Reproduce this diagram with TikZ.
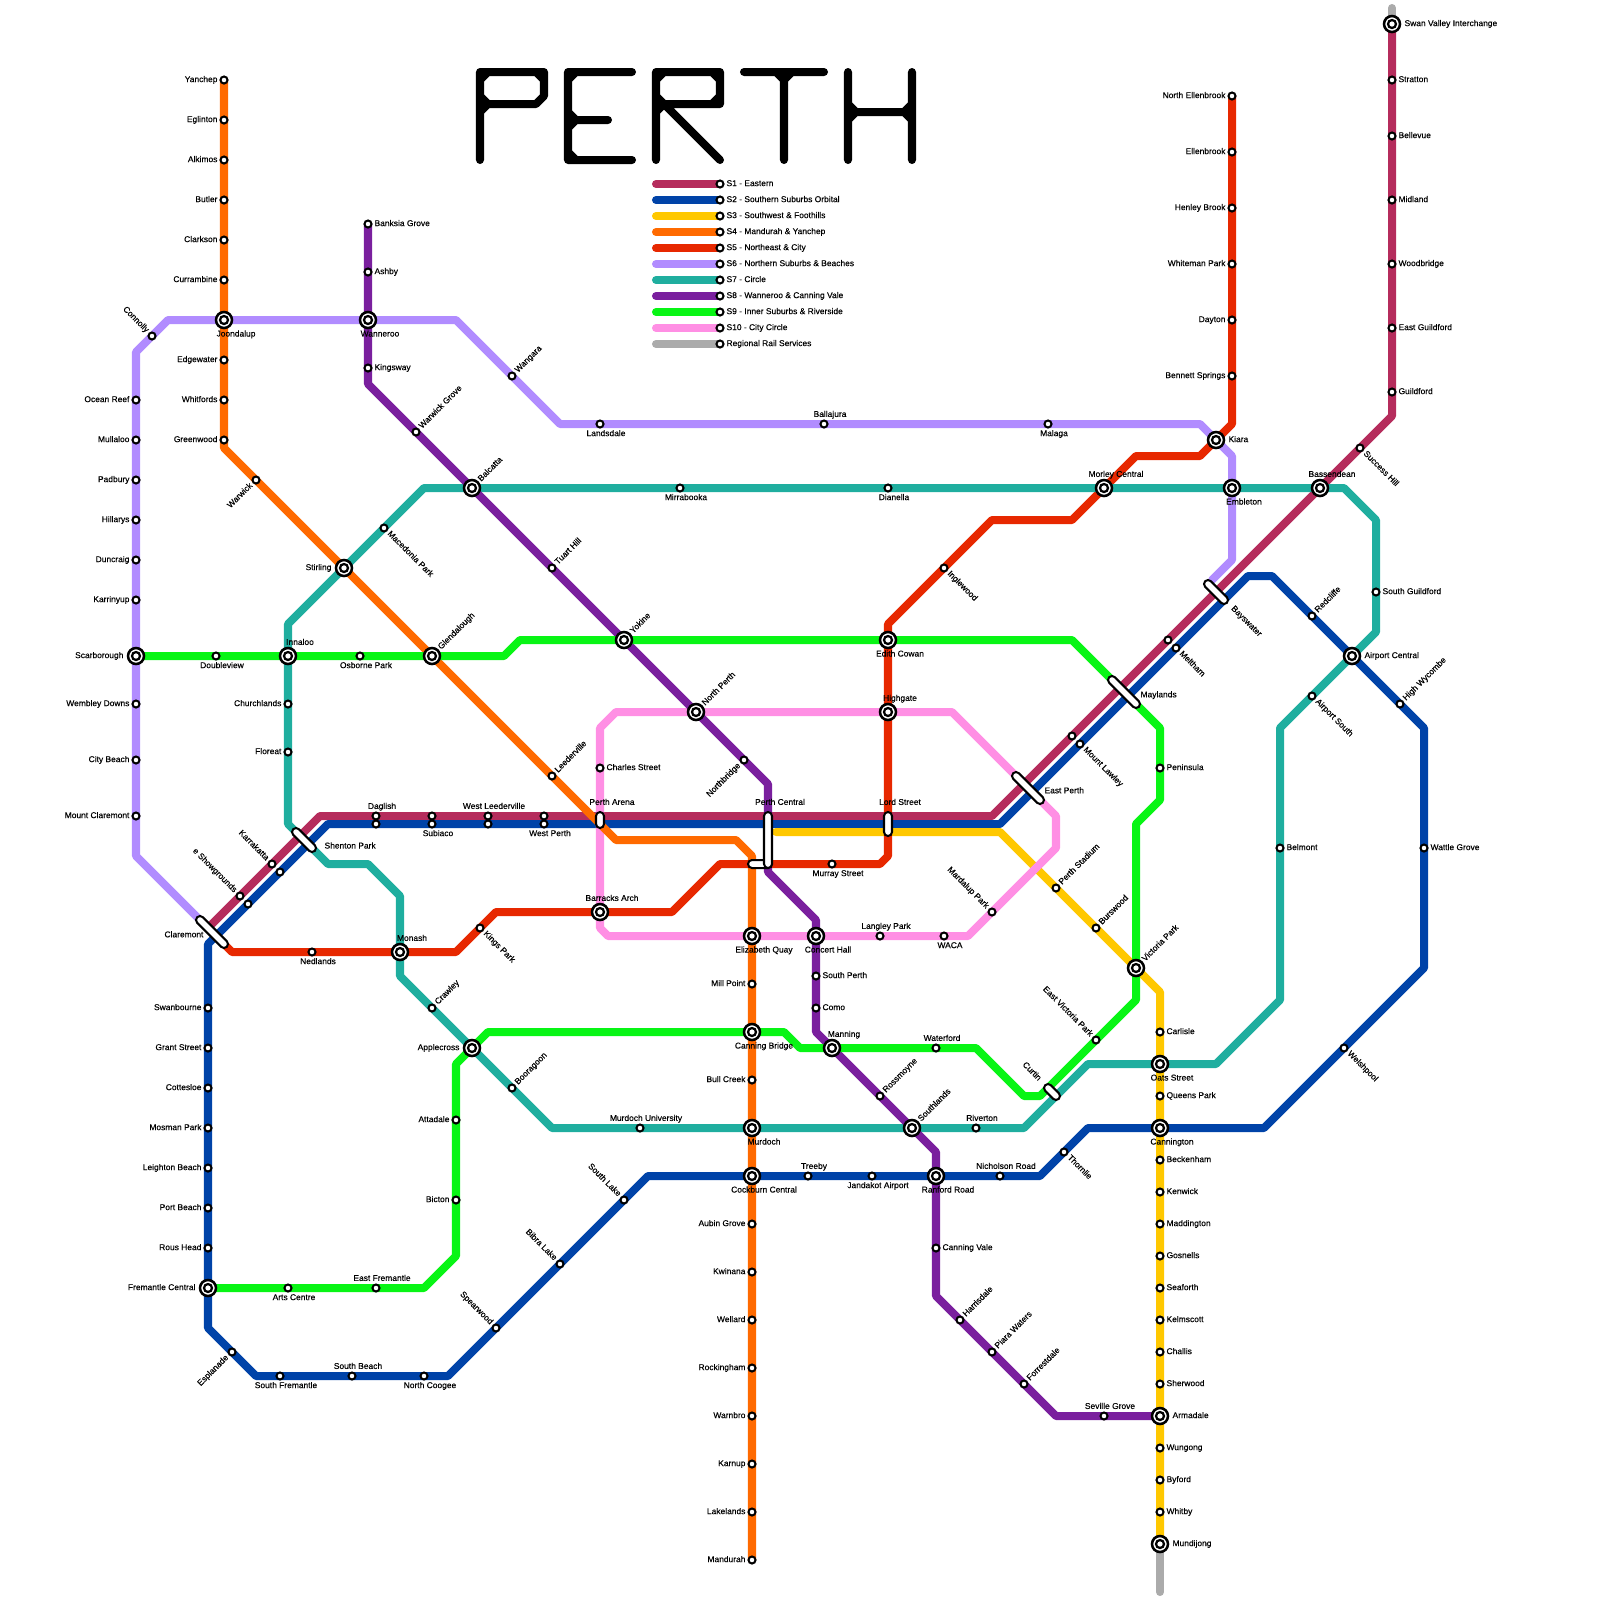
\documentclass[tikz,border=0pt]{standalone}
\usepackage{fontspec}
\setmainfont{Liberation Sans}
\newfontfamily\stationfont[FakeBold=.25]{Liberation Sans}
\usetikzlibrary{backgrounds,shapes.misc}
\definecolor{sone}{HTML}{B52C5C}
\definecolor{stwo}{HTML}{0043A8}
\definecolor{sthree}{HTML}{FFC800}
\definecolor{sfour}{HTML}{FF6A00}
\definecolor{sfive}{HTML}{E72800}
\definecolor{ssix}{HTML}{B18CFF}
\definecolor{sseven}{HTML}{1FAE9F}
\definecolor{seight}{HTML}{7A1F9E}
\definecolor{snine}{HTML}{08F515}
\definecolor{sten}{HTML}{FF8FE4}
\definecolor{sreg}{HTML}{ABABAB}
\tikzset{
	track/.style={line width=2.85pt, line cap=round, line join=round},
	title/.style={line width=2.85pt, line cap=round, line join=round, black},
	stop/.style={circle, draw, fill=white, line width=.72pt, inner sep=0pt, minimum size=.88mm},
	hub/.style={circle, draw, fill=white, line width=.9pt, inner sep=0pt, minimum size=2mm,
		path picture={\draw[line width=.8pt] (path picture bounding box.center) circle (.5mm);}},
	pill/.style={rounded rectangle, draw, fill=white, line width=.72pt, inner sep=0pt, minimum height=1mm, minimum width=#1},
	txt/.style={font=\stationfont\fontsize{3}{3.5}\selectfont, inner sep=0pt, text height=2.1pt, text depth=.6pt},
	tr/.style={txt, at={(#1)}, anchor=west, xshift=.75mm},
	tl/.style={txt, at={(#1)}, anchor=east, xshift=-.75mm},
	ta/.style={txt, at={(#1)}, xshift=.75mm, yshift=1.15mm},
	tb/.style={txt, at={(#1)}, xshift=.75mm, yshift=-1.25mm},
	hr/.style={txt, at={(#1)}, anchor=west, xshift=1.5mm},
	hl/.style={txt, at={(#1)}, anchor=east, xshift=-1.5mm},
	ha/.style={txt, at={(#1)}, xshift=1.5mm, yshift=1.65mm},
	hb/.style={txt, at={(#1)}, xshift=1.5mm, yshift=-1.8mm},
	tu/.style={txt, at={(#1)}, anchor=west, rotate=45, xshift=.75mm},
	hu/.style={txt, at={(#1)}, anchor=west, rotate=45, xshift=1.3mm},
	td/.style={txt, at={(#1)}, anchor=west, rotate=-45, xshift=.75mm},
	tn/.style={txt, at={(#1)}, anchor=east, rotate=-45, xshift=-.75mm},
	ts/.style={txt, at={(#1)}, anchor=east, rotate=45, xshift=-.75mm},
}
\begin{document}
\begin{tikzpicture}[x=1mm, y=-1mm]
	\useasboundingbox (0,0) rectangle (200,200);

	% title
	\draw[title] (60,20) -- (60,9) -- (68,9) -- (68,12) -- (67,13) -- (60,13) (60,10) -- (61,9) (67,9) -- (68,10) (60,12) -- (61,13) (60,14) -- (61,13);
	\draw[title] (79,9) -- (71,9) -- (71,20) -- (79,20) (71,15) -- (76,15) (71,10) -- (72,9) (71,14) -- (72,15) (71,16) -- (72,15) (71,19) -- (72,20);
	\draw[title] (82,20) -- (82,9) -- (90,9) -- (90,13) -- (82,13) (83,13) -- (90,20) (82,10) -- (83,9) (89,9) -- (90,10) (82,12) -- (83,13) (82,14) -- (83,13) (89,13) -- (90,12);
	\draw[title] (93,9) -- (103,9) (98,9) -- (98,20) (97,9) -- (98,10) -- (99,9);
	\draw[title] (106,9) -- (106,20) (114,9) -- (114,20) (106,14) -- (114,14) (106,13) -- (107,14) -- (106,15) (114,13) -- (113,14) -- (114,15);

	% legend
	\node[stop] (leg1) at (90,23) {}; \node[tr=leg1] (leg1-t) {S1 - Eastern};
	\node[stop] (leg2) at (90,25) {}; \node[tr=leg2] (leg2-t) {S2 - Southern Suburbs Orbital};
	\node[stop] (leg3) at (90,27) {}; \node[tr=leg3] (leg3-t) {S3 - Southwest \& Foothills};
	\node[stop] (leg4) at (90,29) {}; \node[tr=leg4] (leg4-t) {S4 - Mandurah \& Yanchep};
	\node[stop] (leg5) at (90,31) {}; \node[tr=leg5] (leg5-t) {S5 - Northeast \& City};
	\node[stop] (leg6) at (90,33) {}; \node[tr=leg6] (leg6-t) {S6 - Northern Suburbs \& Beaches};
	\node[stop] (leg7) at (90,35) {}; \node[tr=leg7] (leg7-t) {S7 - Circle};
	\node[stop] (leg8) at (90,37) {}; \node[tr=leg8] (leg8-t) {S8 - Wanneroo \& Canning Vale};
	\node[stop] (leg9) at (90,39) {}; \node[tr=leg9] (leg9-t) {S9 - Inner Suburbs \& Riverside};
	\node[stop] (leg10) at (90,41) {}; \node[tr=leg10] (leg10-t) {S10 - City Circle};
	\node[stop] (leg11) at (90,43) {}; \node[tr=leg11] (leg11-t) {Regional Rail Services};

	% S4 stations
	\node[stop] (yanchep) at (28,10) {}; \node[tl=yanchep] (yanchep-t) {Yanchep};
	\node[stop] (eglinton) at (28,15) {}; \node[tl=eglinton] (eglinton-t) {Eglinton};
	\node[stop] (alkimos) at (28,20) {}; \node[tl=alkimos] (alkimos-t) {Alkimos};
	\node[stop] (butler) at (28,25) {}; \node[tl=butler] (butler-t) {Butler};
	\node[stop] (clarkson) at (28,30) {}; \node[tl=clarkson] (clarkson-t) {Clarkson};
	\node[stop] (currambine) at (28,35) {}; \node[tl=currambine] (currambine-t) {Currambine};
	\node[hub] (joondalup) at (28,40) {}; \node[hb=joondalup] (joondalup-t) {Joondalup};
	\node[stop] (edgewater) at (28,45) {}; \node[tl=edgewater] (edgewater-t) {Edgewater};
	\node[stop] (whitfords) at (28,50) {}; \node[tl=whitfords] (whitfords-t) {Whitfords};
	\node[stop] (greenwood) at (28,55) {}; \node[tl=greenwood] (greenwood-t) {Greenwood};
	\node[stop] (warwick) at (32,60) {}; \node[ts=warwick] (warwick-t) {Warwick};
	\node[hub] (stirling) at (43,71) {}; \node[hl=stirling] (stirling-t) {Stirling};
	\node[hub] (glendalough) at (54,82) {}; \node[hu=glendalough] (glendalough-t) {Glendalough};
	\node[stop] (leederville) at (69,97) {}; \node[tu=leederville] (leederville-t) {Leederville};
	\node[hub] (equay) at (94,117) {}; \node[hb=equay] (equay-t) {Elizabeth Quay};
	\node[stop] (millpoint) at (94,123) {}; \node[tl=millpoint] (millpoint-t) {Mill Point};
	\node[hub] (canningbr) at (94,129) {}; \node[hb=canningbr] (canningbr-t) {Canning Bridge};
	\node[stop] (bullcreek) at (94,135) {}; \node[tl=bullcreek] (bullcreek-t) {Bull Creek};
	\node[hub] (murdoch) at (94,141) {}; \node[hb=murdoch] (murdoch-t) {Murdoch};
	\node[hub] (cockburn) at (94,147) {}; \node[hb=cockburn] (cockburn-t) {Cockburn Central};
	\node[stop] (aubin) at (94,153) {}; \node[tl=aubin] (aubin-t) {Aubin Grove};
	\node[stop] (kwinana) at (94,159) {}; \node[tl=kwinana] (kwinana-t) {Kwinana};
	\node[stop] (wellard) at (94,165) {}; \node[tl=wellard] (wellard-t) {Wellard};
	\node[stop] (rockingham) at (94,171) {}; \node[tl=rockingham] (rockingham-t) {Rockingham};
	\node[stop] (warnbro) at (94,177) {}; \node[tl=warnbro] (warnbro-t) {Warnbro};
	\node[stop] (karnup) at (94,183) {}; \node[tl=karnup] (karnup-t) {Karnup};
	\node[stop] (lakelands) at (94,189) {}; \node[tl=lakelands] (lakelands-t) {Lakelands};
	\node[stop] (mandurah) at (94,195) {}; \node[tl=mandurah] (mandurah-t) {Mandurah};

	% S6 stations
	\node[stop] (connolly) at (19,42) {}; \node[tn=connolly] (connolly-t) {Connolly};
	\node[stop] (oceanreef) at (17,50) {}; \node[tl=oceanreef] (oceanreef-t) {Ocean Reef};
	\node[stop] (mullaloo) at (17,55) {}; \node[tl=mullaloo] (mullaloo-t) {Mullaloo};
	\node[stop] (padbury) at (17,60) {}; \node[tl=padbury] (padbury-t) {Padbury};
	\node[stop] (hillarys) at (17,65) {}; \node[tl=hillarys] (hillarys-t) {Hillarys};
	\node[stop] (duncraig) at (17,70) {}; \node[tl=duncraig] (duncraig-t) {Duncraig};
	\node[stop] (karrinyup) at (17,75) {}; \node[tl=karrinyup] (karrinyup-t) {Karrinyup};
	\node[hub] (scarborough) at (17,82) {}; \node[hl=scarborough] (scarborough-t) {Scarborough};
	\node[stop] (wembley) at (17,88) {}; \node[tl=wembley] (wembley-t) {Wembley Downs};
	\node[stop] (citybeach) at (17,95) {}; \node[tl=citybeach] (citybeach-t) {City Beach};
	\node[stop] (mtclaremont) at (17,102) {}; \node[tl=mtclaremont] (mtclaremont-t) {Mount Claremont};
	\node[stop] (wangara) at (64,47) {}; \node[tu=wangara] (wangara-t) {Wangara};
	\node[stop] (landsdale) at (75,53) {}; \node[tb=landsdale] (landsdale-t) {Landsdale};
	\node[stop] (ballajura) at (103,53) {}; \node[ta=ballajura] (ballajura-t) {Ballajura};
	\node[stop] (malaga) at (131,53) {}; \node[tb=malaga] (malaga-t) {Malaga};
	\node[hub] (kiara) at (152,55) {}; \node[hr=kiara] (kiara-t) {Kiara};
	\node[hub] (embleton) at (154,61) {}; \node[hb=embleton] (embleton-t) {Embleton};

	% S8 stations
	\node[stop] (banksia) at (46,28) {}; \node[tr=banksia] (banksia-t) {Banksia Grove};
	\node[stop] (ashby) at (46,34) {}; \node[tr=ashby] (ashby-t) {Ashby};
	\node[hub] (wanneroo) at (46,40) {}; \node[hb=wanneroo] (wanneroo-t) {Wanneroo};
	\node[stop] (kingsway) at (46,46) {}; \node[tr=kingsway] (kingsway-t) {Kingsway};
	\node[stop] (warwickgr) at (52,54) {}; \node[tu=warwickgr] (warwickgr-t) {Warwick Grove};
	\node[hub] (balcatta) at (59,61) {}; \node[hu=balcatta] (balcatta-t) {Balcatta};
	\node[stop] (tuarthill) at (69,71) {}; \node[tu=tuarthill] (tuarthill-t) {Tuart Hill};
	\node[hub] (yokine) at (78,80) {}; \node[hu=yokine] (yokine-t) {Yokine};
	\node[hub] (northperth) at (87,89) {}; \node[hu=northperth] (northperth-t) {North Perth};
	\node[stop] (northbridge) at (93,95) {}; \node[ts=northbridge] (northbridge-t) {Northbridge};
	\node[hub] (concert) at (102,117) {}; \node[hb=concert] (concert-t) {Concert Hall};
	\node[stop] (southperth) at (102,122) {}; \node[tr=southperth] (southperth-t) {South Perth};
	\node[stop] (como) at (102,126) {}; \node[tr=como] (como-t) {Como};
	\node[hub] (manning) at (104,131) {}; \node[ha=manning] (manning-t) {Manning};
	\node[stop] (rossmoyne) at (110,137) {}; \node[tu=rossmoyne] (rossmoyne-t) {Rossmoyne};
	\node[hub] (southlands) at (114,141) {}; \node[hu=southlands] (southlands-t) {Southlands};
	\node[hub] (ranford) at (117,147) {}; \node[hb=ranford] (ranford-t) {Ranford Road};
	\node[stop] (canningv) at (117,156) {}; \node[tr=canningv] (canningv-t) {Canning Vale};
	\node[stop] (harrisdale) at (120,165) {}; \node[tu=harrisdale] (harrisdale-t) {Harrisdale};
	\node[stop] (piara) at (124,169) {}; \node[tu=piara] (piara-t) {Piara Waters};
	\node[stop] (forrestdale) at (128,173) {}; \node[tu=forrestdale] (forrestdale-t) {Forrestdale};
	\node[stop] (seville) at (138,177) {}; \node[ta=seville] (seville-t) {Seville Grove};
	\node[hub] (armadale) at (145,177) {}; \node[hr=armadale] (armadale-t) {Armadale};

	% S5 stations
	\node[stop] (nellenbrook) at (154,12) {}; \node[tl=nellenbrook] (nellenbrook-t) {North Ellenbrook};
	\node[stop] (ellenbrook) at (154,19) {}; \node[tl=ellenbrook] (ellenbrook-t) {Ellenbrook};
	\node[stop] (henley) at (154,26) {}; \node[tl=henley] (henley-t) {Henley Brook};
	\node[stop] (whiteman) at (154,33) {}; \node[tl=whiteman] (whiteman-t) {Whiteman Park};
	\node[stop] (dayton) at (154,40) {}; \node[tl=dayton] (dayton-t) {Dayton};
	\node[stop] (bennett) at (154,47) {}; \node[tl=bennett] (bennett-t) {Bennett Springs};
	\node[hub] (morley) at (138,61) {}; \node[ha=morley] (morley-t) {Morley Central};
	\node[stop] (inglewood) at (118,71) {}; \node[td=inglewood] (inglewood-t) {Inglewood};
	\node[hub] (edith) at (111,80) {}; \node[hb=edith] (edith-t) {Edith Cowan};
	\node[hub] (highgate) at (111,89) {}; \node[ha=highgate] (highgate-t) {Highgate};
	\node[stop] (murray) at (104,108) {}; \node[tb=murray] (murray-t) {Murray Street};
	\node[hub] (barracks) at (75,114) {}; \node[ha=barracks] (barracks-t) {Barracks Arch};
	\node[stop] (kingspark) at (60,116) {}; \node[td=kingspark] (kingspark-t) {Kings Park};
	\node[hub] (monash) at (50,119) {}; \node[ha=monash] (monash-t) {Monash};
	\node[stop] (nedlands) at (39,119) {}; \node[tb=nedlands] (nedlands-t) {Nedlands};

	% S2 stations
	\node[stop] (swanbourne) at (26,126) {}; \node[tl=swanbourne] (swanbourne-t) {Swanbourne};
	\node[stop] (grantst) at (26,131) {}; \node[tl=grantst] (grantst-t) {Grant Street};
	\node[stop] (cottesloe) at (26,136) {}; \node[tl=cottesloe] (cottesloe-t) {Cottesloe};
	\node[stop] (mosman) at (26,141) {}; \node[tl=mosman] (mosman-t) {Mosman Park};
	\node[stop] (leighton) at (26,146) {}; \node[tl=leighton] (leighton-t) {Leighton Beach};
	\node[stop] (portbeach) at (26,151) {}; \node[tl=portbeach] (portbeach-t) {Port Beach};
	\node[stop] (roushead) at (26,156) {}; \node[tl=roushead] (roushead-t) {Rous Head};
	\node[hub] (fremantle) at (26,161) {}; \node[hl=fremantle] (fremantle-t) {Fremantle Central};
	\node[stop] (esplanade) at (29,169) {}; \node[ts=esplanade] (esplanade-t) {Esplanade};
	\node[stop] (southfre) at (35,172) {}; \node[tb=southfre] (southfre-t) {South Fremantle};
	\node[stop] (southbeach) at (44,172) {}; \node[ta=southbeach] (southbeach-t) {South Beach};
	\node[stop] (ncoogee) at (53,172) {}; \node[tb=ncoogee] (ncoogee-t) {North Coogee};
	\node[stop] (spearwood) at (62,166) {}; \node[tn=spearwood] (spearwood-t) {Spearwood};
	\node[stop] (bibra) at (70,158) {}; \node[tn=bibra] (bibra-t) {Bibra Lake};
	\node[stop] (southlake) at (78,150) {}; \node[tn=southlake] (southlake-t) {South Lake};
	\node[stop] (treeby) at (101,147) {}; \node[ta=treeby] (treeby-t) {Treeby};
	\node[stop] (jandakot) at (109,147) {}; \node[tb=jandakot] (jandakot-t) {Jandakot Airport};
	\node[stop] (nicholson) at (125,147) {}; \node[ta=nicholson] (nicholson-t) {Nicholson Road};
	\node[stop] (thornlie) at (133,144) {}; \node[td=thornlie] (thornlie-t) {Thornlie};
	\node[hub] (cannington) at (145,141) {}; \node[hb=cannington] (cannington-t) {Cannington};
	\node[stop] (welshpool) at (168,131) {}; \node[td=welshpool] (welshpool-t) {Welshpool};
	\node[stop] (wattle) at (178,106) {}; \node[tr=wattle] (wattle-t) {Wattle Grove};
	\node[stop] (wycombe) at (175,88) {}; \node[tu=wycombe] (wycombe-t) {High Wycombe};
	\node[hub] (airport) at (169,82) {}; \node[hr=airport] (airport-t) {Airport Central};
	\node[stop] (redcliffe) at (164,77) {}; \node[tu=redcliffe] (redcliffe-t) {Redcliffe};
	\node[stop] (meltham) at (147,81) {}; \node[td=meltham] (meltham-t) {Meltham};
	\node[stop] (mtlawley) at (135,93) {}; \node[td=mtlawley] (mtlawley-t) {Mount Lawley};
	\node[stop] (westperth) at (68,103) {}; \node[tb=westperth] (westperth-t) {West Perth};
	\node[stop] (leeder-b) at (61,103) {};
	\node[stop] (subiaco) at (54,103) {}; \node[tb=subiaco] (subiaco-t) {Subiaco};
	\node[stop] (daglish-b) at (47,103) {};
	\node[stop] (karra-b) at (35,109) {};
	\node[stop] (show-b) at (31,113) {};

	% S1 stations
	\node[stop] (showgr) at (30,112) {}; \node[tn=showgr] (showgr-t) {e Showgrounds};
	\node[stop] (karrakatta) at (34,108) {}; \node[tn=karrakatta] (karrakatta-t) {Karrakatta};
	\node[stop] (daglish) at (47,102) {}; \node[ta=daglish] (daglish-t) {Daglish};
	\node[stop] (subiaco-a) at (54,102) {};
	\node[stop] (westleeder) at (61,102) {}; \node[ta=westleeder] (westleeder-t) {West Leederville};
	\node[stop] (westperth-a) at (68,102) {};
	\node[stop] (mtlawley-a) at (134,92) {};
	\node[stop] (meltham-a) at (146,80) {};
	\node[hub] (bassendean) at (165,61) {}; \node[ha=bassendean] (bassendean-t) {Bassendean};
	\node[stop] (success) at (170,56) {}; \node[td=success] (success-t) {Success Hill};
	\node[stop] (guildford) at (174,49) {}; \node[tr=guildford] (guildford-t) {Guildford};
	\node[stop] (eguildford) at (174,41) {}; \node[tr=eguildford] (eguildford-t) {East Guildford};
	\node[stop] (woodbridge) at (174,33) {}; \node[tr=woodbridge] (woodbridge-t) {Woodbridge};
	\node[stop] (midland) at (174,25) {}; \node[tr=midland] (midland-t) {Midland};
	\node[stop] (bellevue) at (174,17) {}; \node[tr=bellevue] (bellevue-t) {Bellevue};
	\node[stop] (stratton) at (174,10) {}; \node[tr=stratton] (stratton-t) {Stratton};
	\node[hub] (swanvalley) at (174,3) {}; \node[hr=swanvalley] (swanvalley-t) {Swan Valley Interchange};

	% S3 stations
	\node[stop] (stadium) at (132,111) {}; \node[tu=stadium] (stadium-t) {Perth Stadium};
	\node[stop] (burswood) at (137,116) {}; \node[tu=burswood] (burswood-t) {Burswood};
	\node[hub] (vicpark) at (142,121) {}; \node[hu=vicpark] (vicpark-t) {Victoria Park};
	\node[stop] (carlisle) at (145,129) {}; \node[tr=carlisle] (carlisle-t) {Carlisle};
	\node[hub] (oats) at (145,133) {}; \node[hb=oats] (oats-t) {Oats Street};
	\node[stop] (queenspark) at (145,137) {}; \node[tr=queenspark] (queenspark-t) {Queens Park};
	\node[stop] (beckenham) at (145,145) {}; \node[tr=beckenham] (beckenham-t) {Beckenham};
	\node[stop] (kenwick) at (145,149) {}; \node[tr=kenwick] (kenwick-t) {Kenwick};
	\node[stop] (maddington) at (145,153) {}; \node[tr=maddington] (maddington-t) {Maddington};
	\node[stop] (gosnells) at (145,157) {}; \node[tr=gosnells] (gosnells-t) {Gosnells};
	\node[stop] (seaforth) at (145,161) {}; \node[tr=seaforth] (seaforth-t) {Seaforth};
	\node[stop] (kelmscott) at (145,165) {}; \node[tr=kelmscott] (kelmscott-t) {Kelmscott};
	\node[stop] (challis) at (145,169) {}; \node[tr=challis] (challis-t) {Challis};
	\node[stop] (sherwood) at (145,173) {}; \node[tr=sherwood] (sherwood-t) {Sherwood};
	\node[stop] (wungong) at (145,181) {}; \node[tr=wungong] (wungong-t) {Wungong};
	\node[stop] (byford) at (145,185) {}; \node[tr=byford] (byford-t) {Byford};
	\node[stop] (whitby) at (145,189) {}; \node[tr=whitby] (whitby-t) {Whitby};
	\node[hub] (mundijong) at (145,193) {}; \node[hr=mundijong] (mundijong-t) {Mundijong};

	% S7 stations
	\node[stop] (mirrabooka) at (85,61) {}; \node[tb=mirrabooka] (mirrabooka-t) {Mirrabooka};
	\node[stop] (dianella) at (111,61) {}; \node[tb=dianella] (dianella-t) {Dianella};
	\node[stop] (macedonia) at (48,66) {}; \node[td=macedonia] (macedonia-t) {Macedonia Park};
	\node[hub] (innaloo) at (36,82) {}; \node[ha=innaloo] (innaloo-t) {Innaloo};
	\node[stop] (churchlands) at (36,88) {}; \node[tl=churchlands] (churchlands-t) {Churchlands};
	\node[stop] (floreat) at (36,94) {}; \node[tl=floreat] (floreat-t) {Floreat};
	\node[stop] (crawley) at (54,126) {}; \node[tu=crawley] (crawley-t) {Crawley};
	\node[hub] (applecross) at (59,131) {}; \node[hl=applecross] (applecross-t) {Applecross};
	\node[stop] (booragoon) at (64,136) {}; \node[tu=booragoon] (booragoon-t) {Booragoon};
	\node[stop] (murdochuni) at (80,141) {}; \node[ta=murdochuni] (murdochuni-t) {Murdoch University};
	\node[stop] (riverton) at (122,141) {}; \node[ta=riverton] (riverton-t) {Riverton};
	\node[stop] (belmont) at (160,106) {}; \node[tr=belmont] (belmont-t) {Belmont};
	\node[stop] (airportsth) at (164,87) {}; \node[td=airportsth] (airportsth-t) {Airport South};
	\node[stop] (sguildford) at (172,74) {}; \node[tr=sguildford] (sguildford-t) {South Guildford};

	% S9 stations
	\node[stop] (doubleview) at (27,82) {}; \node[tb=doubleview] (doubleview-t) {Doubleview};
	\node[stop] (osborne) at (45,82) {}; \node[tb=osborne] (osborne-t) {Osborne Park};
	\node[stop] (peninsula) at (145,96) {}; \node[tr=peninsula] (peninsula-t) {Peninsula};
	\node[stop] (evicpark) at (137,130) {}; \node[tn=evicpark] (evicpark-t) {East Victoria Park};
	\node[stop] (waterford) at (117,131) {}; \node[ta=waterford] (waterford-t) {Waterford};
	\node[stop] (attadale) at (57,140) {}; \node[tl=attadale] (attadale-t) {Attadale};
	\node[stop] (bicton) at (57,150) {}; \node[tl=bicton] (bicton-t) {Bicton};
	\node[stop] (efremantle) at (47,161) {}; \node[ta=efremantle] (efremantle-t) {East Fremantle};
	\node[stop] (artscentre) at (36,161) {}; \node[tb=artscentre] (artscentre-t) {Arts Centre};

	% S10 stations
	\node[stop] (charles) at (75,96) {}; \node[tr=charles] (charles-t) {Charles Street};
	\node[stop] (mardalup) at (124,114) {}; \node[tn=mardalup] (mardalup-t) {Mardalup Park};
	\node[stop] (langley) at (110,117) {}; \node[ta=langley] (langley-t) {Langley Park};
	\node[stop] (waca) at (118,117) {}; \node[tb=waca] (waca-t) {WACA};

	% long stations
	\node[pill=5.24mm, rotate=-45] (claremont) at (26.5,116.5) {}; \node[txt, anchor=east] (claremont-t) at (25.5,116.9) {Claremont};
	\node[pill=3.83mm, rotate=-45] (shenton) at (38,105) {}; \node[txt, anchor=west] (shenton-t) at (40.5,105.8) {Shenton Park};
	\node[pill=3mm] (pcentral-h) at (95,108) {};
	\node[pill=7mm, rotate=90] (pcentral) at (96,105) {}; \node[txt] (pcentral-t) at (97.5,100.35) {Perth Central};
	\node[pill=3mm, rotate=90] (lordst) at (111,103) {}; \node[txt] (lordst-t) at (112.5,100.35) {Lord Street};
	\node[pill=2mm, rotate=90] (arena) at (75,102.5) {}; \node[txt] (arena-t) at (76.5,100.35) {Perth Arena};
	\node[pill=5.24mm, rotate=-45] (eastperth) at (128.5,98.5) {}; \node[txt, anchor=west] (eastperth-t) at (130.5,98.9) {East Perth};
	\node[pill=5.24mm, rotate=-45] (maylands) at (140.5,86.5) {}; \node[txt, anchor=west] (maylands-t) at (142.5,86.9) {Maylands};
	\node[pill=3.83mm, rotate=-45] (bayswater) at (152,74) {}; \node[txt, anchor=west, rotate=-45] (bayswater-t) at (154,75.9) {Bayswater};
	\node[pill=2.41mm, rotate=-45] (curtin) at (131.5,136.5) {}; \node[txt, anchor=east, rotate=-45] (curtin-t) at (130,135) {Curtin};

	% bends
	\coordinate (a1) at (26,116); \coordinate (a2) at (40,102); \coordinate (a3) at (124,102); \coordinate (a4) at (174,52);
	\coordinate (b1) at (26,118); \coordinate (b2) at (41,103); \coordinate (b3) at (125,103); \coordinate (b4) at (156,72);
	\coordinate (b5) at (159,72); \coordinate (b6) at (178,91); \coordinate (b7) at (178,121); \coordinate (b8) at (158,141);
	\coordinate (b9) at (136,141); \coordinate (b10) at (130,147); \coordinate (b11) at (81,147); \coordinate (b12) at (56,172);
	\coordinate (b13) at (32,172); \coordinate (b14) at (26,166);
	\coordinate (c1) at (97,104); \coordinate (c2) at (125,104); \coordinate (c3) at (145,124);
	\coordinate (d1) at (28,56); \coordinate (d2) at (77,105); \coordinate (d3) at (92,105); \coordinate (d4) at (94,107);
	\coordinate (e1) at (154,53); \coordinate (e2) at (150,57); \coordinate (e3) at (142,57); \coordinate (e4) at (134,65);
	\coordinate (e5) at (124,65); \coordinate (e6) at (111,78); \coordinate (e7) at (111,107); \coordinate (e8) at (110,108);
	\coordinate (e9) at (90,108); \coordinate (e10) at (84,114); \coordinate (e11) at (62,114); \coordinate (e12) at (57,119);
	\coordinate (e13) at (29,119); \coordinate (e14) at (27,117);
	\coordinate (f1) at (25,115); \coordinate (f2) at (17,107); \coordinate (f3) at (17,44); \coordinate (f4) at (21,40);
	\coordinate (f5) at (57,40); \coordinate (f6) at (70,53); \coordinate (f7) at (150,53); \coordinate (f8) at (154,57);
	\coordinate (f9) at (154,70); \coordinate (f10) at (151.5,72.5);
	\coordinate (g1) at (53,61); \coordinate (g2) at (36,78); \coordinate (g3) at (36,103); \coordinate (g4) at (41,108);
	\coordinate (g5) at (46,108); \coordinate (g6) at (50,112); \coordinate (g7) at (50,122); \coordinate (g8) at (69,141);
	\coordinate (g9) at (128,141); \coordinate (g10) at (136,133); \coordinate (g11) at (152,133); \coordinate (g12) at (160,125);
	\coordinate (g13) at (160,91); \coordinate (g14) at (172,79); \coordinate (g15) at (172,65); \coordinate (g16) at (168,61);
	\coordinate (h1) at (46,48); \coordinate (h2) at (96,98); \coordinate (h3) at (96,109); \coordinate (h4) at (102,115);
	\coordinate (h5) at (102,129); \coordinate (h6) at (117,144); \coordinate (h7) at (117,162); \coordinate (h8) at (132,177);
	\coordinate (i1) at (63,82); \coordinate (i2) at (65,80); \coordinate (i3) at (134,80); \coordinate (i4) at (145,91);
	\coordinate (i5) at (145,100); \coordinate (i6) at (142,103); \coordinate (i7) at (142,125); \coordinate (i8) at (130,137);
	\coordinate (i9) at (128,137); \coordinate (i10) at (122,131); \coordinate (i11) at (100,131); \coordinate (i12) at (98,129);
	\coordinate (i13) at (61,129); \coordinate (i14) at (57,133); \coordinate (i15) at (57,157); \coordinate (i16) at (53,161);
	\coordinate (j1) at (75,91); \coordinate (j2) at (77,89); \coordinate (j3) at (119,89); \coordinate (j4) at (132,102);
	\coordinate (j5) at (132,106); \coordinate (j6) at (121,117); \coordinate (j7) at (76,117); \coordinate (j8) at (75,116);
	\coordinate (r1) at (174,1); \coordinate (r2) at (145,199);
	\coordinate (l1) at (82,23); \coordinate (l2) at (82,25); \coordinate (l3) at (82,27); \coordinate (l4) at (82,29);
	\coordinate (l5) at (82,31); \coordinate (l6) at (82,33); \coordinate (l7) at (82,35); \coordinate (l8) at (82,37);
	\coordinate (l9) at (82,39); \coordinate (l10) at (82,41); \coordinate (l11) at (82,43);

	\begin{scope}[on background layer]
	% regional
	\draw[track, sreg] (swanvalley.center) -- (r1);
	\draw[track, sreg] (mundijong.center) -- (r2);
	\draw[track, sreg] (l11) -- (leg11.center);
	% S1
	\draw[track, sone] (l1) -- (leg1.center);
	\draw[track, sone] (a1) -- (showgr.center) -- (karrakatta.center) -- (a2) -- (daglish.center) -- (subiaco-a.center) -- (westleeder.center) -- (westperth-a.center) -- (a3) -- (mtlawley-a.center) -- (meltham-a.center) -- (bassendean.center) -- (success.center) -- (a4) -- (guildford.center) -- (eguildford.center) -- (woodbridge.center) -- (midland.center) -- (bellevue.center) -- (stratton.center) -- (swanvalley.center);
	% S2
	\draw[track, stwo] (l2) -- (leg2.center);
	\draw[track, stwo] (fremantle.center) -- (roushead.center) -- (portbeach.center) -- (leighton.center) -- (mosman.center) -- (cottesloe.center) -- (grantst.center) -- (swanbourne.center) -- (b1) -- (show-b.center) -- (karra-b.center) -- (b2) -- (daglish-b.center) -- (subiaco.center) -- (leeder-b.center) -- (westperth.center) -- (b3) -- (mtlawley.center) -- (meltham.center) -- (b4) -- (b5) -- (redcliffe.center) -- (airport.center) -- (wycombe.center) -- (b6) -- (wattle.center) -- (b7) -- (welshpool.center) -- (b8) -- (cannington.center) -- (b9) -- (thornlie.center) -- (b10) -- (nicholson.center) -- (ranford.center) -- (jandakot.center) -- (treeby.center) -- (cockburn.center) -- (b11) -- (southlake.center) -- (bibra.center) -- (spearwood.center) -- (b12) -- (ncoogee.center) -- (southbeach.center) -- (southfre.center) -- (b13) -- (esplanade.center) -- (b14) -- (fremantle.center);
	% S3
	\draw[track, sthree] (l3) -- (leg3.center);
	\draw[track, sthree] (c1) -- (c2) -- (stadium.center) -- (burswood.center) -- (vicpark.center) -- (c3) -- (carlisle.center) -- (oats.center) -- (queenspark.center) -- (cannington.center) -- (beckenham.center) -- (kenwick.center) -- (maddington.center) -- (gosnells.center) -- (seaforth.center) -- (kelmscott.center) -- (challis.center) -- (sherwood.center) -- (armadale.center) -- (wungong.center) -- (byford.center) -- (whitby.center) -- (mundijong.center);
	% S10
	\draw[track, sten] (l10) -- (leg10.center);
	\draw[track, sten] (j1) -- (j2) -- (northperth.center) -- (highgate.center) -- (j3) -- (j4) -- (j5) -- (mardalup.center) -- (j6) -- (waca.center) -- (langley.center) -- (concert.center) -- (equay.center) -- (j7) -- (j8) -- (barracks.center) -- (arena.center) -- (charles.center) -- cycle;
	% S4
	\draw[track, sfour] (l4) -- (leg4.center);
	\draw[track, sfour] (yanchep.center) -- (eglinton.center) -- (alkimos.center) -- (butler.center) -- (clarkson.center) -- (currambine.center) -- (joondalup.center) -- (edgewater.center) -- (whitfords.center) -- (greenwood.center) -- (d1) -- (warwick.center) -- (stirling.center) -- (glendalough.center) -- (leederville.center) -- (d2) -- (d3) -- (d4) -- (equay.center) -- (millpoint.center) -- (canningbr.center) -- (bullcreek.center) -- (murdoch.center) -- (cockburn.center) -- (aubin.center) -- (kwinana.center) -- (wellard.center) -- (rockingham.center) -- (warnbro.center) -- (karnup.center) -- (lakelands.center) -- (mandurah.center);
	% S5
	\draw[track, sfive] (l5) -- (leg5.center);
	\draw[track, sfive] (nellenbrook.center) -- (ellenbrook.center) -- (henley.center) -- (whiteman.center) -- (dayton.center) -- (bennett.center) -- (e1) -- (kiara.center) -- (e2) -- (e3) -- (morley.center) -- (e4) -- (e5) -- (inglewood.center) -- (e6) -- (edith.center) -- (highgate.center) -- (lordst.center) -- (e7) -- (e8) -- (murray.center) -- (e9) -- (e10) -- (barracks.center) -- (e11) -- (kingspark.center) -- (e12) -- (monash.center) -- (nedlands.center) -- (e13) -- (e14);
	% S6
	\draw[track, ssix] (l6) -- (leg6.center);
	\draw[track, ssix] (f1) -- (f2) -- (mtclaremont.center) -- (citybeach.center) -- (wembley.center) -- (scarborough.center) -- (karrinyup.center) -- (duncraig.center) -- (hillarys.center) -- (padbury.center) -- (mullaloo.center) -- (oceanreef.center) -- (f3) -- (connolly.center) -- (f4) -- (joondalup.center) -- (wanneroo.center) -- (f5) -- (wangara.center) -- (f6) -- (landsdale.center) -- (ballajura.center) -- (malaga.center) -- (f7) -- (kiara.center) -- (f8) -- (embleton.center) -- (f9) -- (f10);
	% S7
	\draw[track, sseven] (l7) -- (leg7.center);
	\draw[track, sseven] (balcatta.center) -- (g1) -- (macedonia.center) -- (stirling.center) -- (g2) -- (innaloo.center) -- (churchlands.center) -- (floreat.center) -- (g3) -- (shenton.center) -- (g4) -- (g5) -- (g6) -- (monash.center) -- (g7) -- (crawley.center) -- (applecross.center) -- (booragoon.center) -- (g8) -- (murdochuni.center) -- (murdoch.center) -- (southlands.center) -- (riverton.center) -- (g9) -- (g10) -- (oats.center) -- (g11) -- (g12) -- (belmont.center) -- (g13) -- (airportsth.center) -- (airport.center) -- (g14) -- (sguildford.center) -- (g15) -- (g16) -- (bassendean.center) -- (embleton.center) -- (morley.center) -- (dianella.center) -- (mirrabooka.center) -- (balcatta.center);
	% S8
	\draw[track, seight] (l8) -- (leg8.center);
	\draw[track, seight] (banksia.center) -- (ashby.center) -- (wanneroo.center) -- (kingsway.center) -- (h1) -- (warwickgr.center) -- (balcatta.center) -- (tuarthill.center) -- (yokine.center) -- (northperth.center) -- (northbridge.center) -- (h2) -- (pcentral.center) -- (h3) -- (h4) -- (concert.center) -- (southperth.center) -- (como.center) -- (h5) -- (manning.center) -- (rossmoyne.center) -- (southlands.center) -- (h6) -- (ranford.center) -- (canningv.center) -- (h7) -- (harrisdale.center) -- (piara.center) -- (forrestdale.center) -- (h8) -- (seville.center) -- (armadale.center);
	% S9
	\draw[track, snine] (l9) -- (leg9.center);
	\draw[track, snine] (scarborough.center) -- (doubleview.center) -- (innaloo.center) -- (osborne.center) -- (glendalough.center) -- (i1) -- (i2) -- (yokine.center) -- (edith.center) -- (i3) -- (maylands.center) -- (i4) -- (peninsula.center) -- (i5) -- (i6) -- (vicpark.center) -- (i7) -- (evicpark.center) -- (i8) -- (i9) -- (i10) -- (waterford.center) -- (manning.center) -- (i11) -- (i12) -- (canningbr.center) -- (i13) -- (applecross.center) -- (i14) -- (attadale.center) -- (bicton.center) -- (i15) -- (i16) -- (efremantle.center) -- (artscentre.center) -- (fremantle.center);
	\end{scope}
\end{tikzpicture}
\end{document}
